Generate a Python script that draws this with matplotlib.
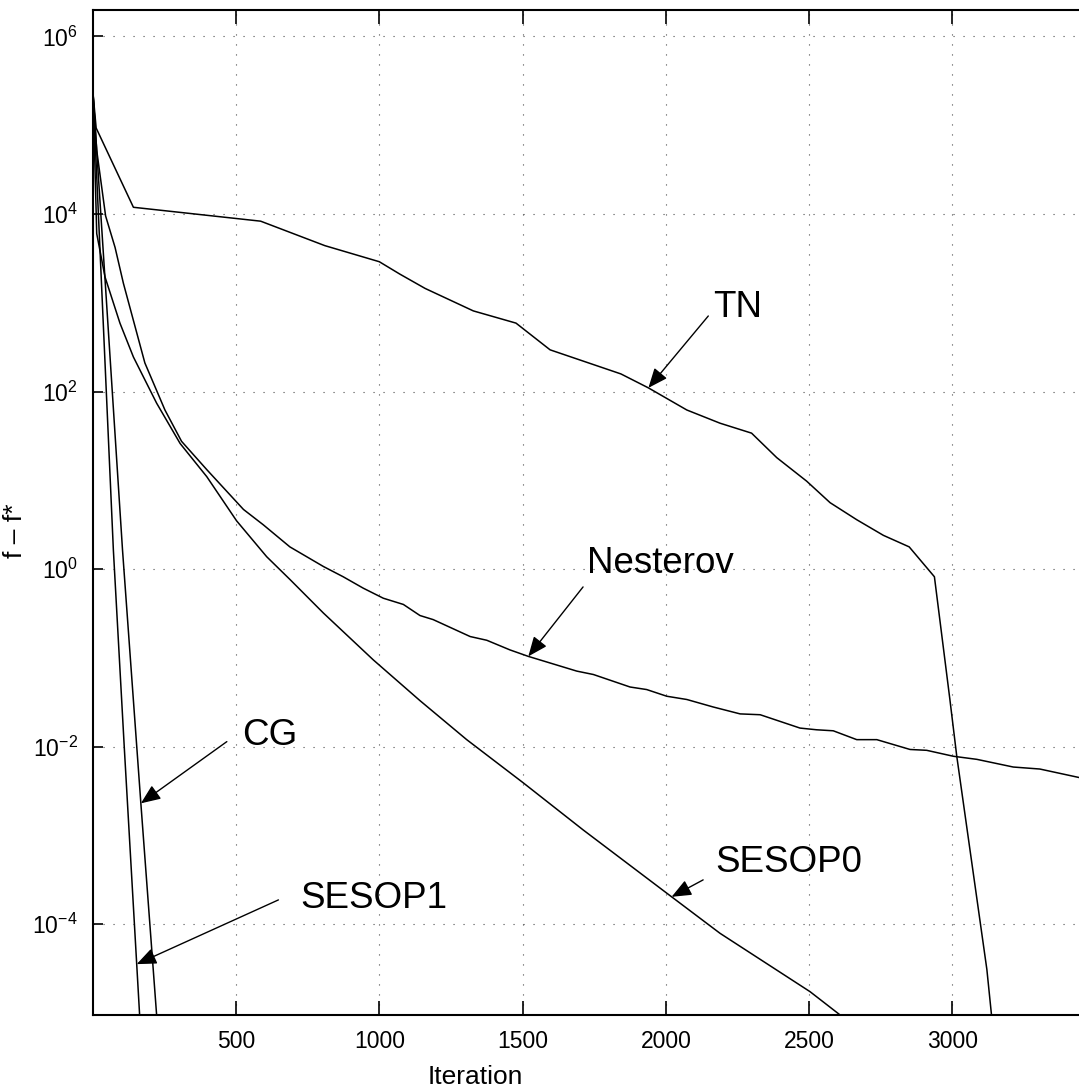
import numpy as np
import matplotlib
matplotlib.use("Agg")
import matplotlib.pyplot as plt
from matplotlib import font_manager
from matplotlib.ticker import FixedLocator, LogFormatterSciNotation, NullLocator

# ---- data: objective gap f - f* versus iteration ----
tn_iter = [1, 12, 142, 586, 810, 1000, 1072, 1160, 1328, 1477, 1596, 1843, 1939,
           2073, 2189, 2299, 2387, 2491, 2573, 2666, 2759, 2849, 2937, 2991, 3015,
           3120, 3145]
tn_gap = [2.3e5, 9.3e4, 1.19e4, 8.3e3, 4.4e3, 2.9e3, 2.1e3, 1.45e3, 8.1e2, 5.9e2,
          2.95e2, 1.58e2, 1.10e2, 62, 44, 34, 18, 9.8, 5.6, 3.6, 2.4, 1.78, 0.82,
          0.034, 7.8e-3, 3.1e-5, 5e-6]

nest_iter = [1, 14, 45, 78, 107, 182, 252, 310, 398, 526, 595, 688, 805, 874, 944,
             1014, 1084, 1142, 1188, 1317, 1375, 1456, 1520, 1689, 1747, 1875, 1933,
             2003, 2073, 2165, 2259, 2329, 2468, 2526, 2584, 2666, 2736, 2852, 2910,
             3003, 3085, 3212, 3305, 3441, 3460]
nest_gap = [2.3e5, 5.2e4, 9.5e3, 4.2e3, 1.66e3, 2.1e2, 62, 27.5, 13.2, 4.7, 3.16,
            1.78, 1.07, 0.82, 0.61, 0.47, 0.40, 0.30, 0.27, 0.174, 0.158, 0.123,
            0.104, 0.071, 0.065, 0.047, 0.044, 0.037, 0.034, 0.028, 0.0234, 0.0229,
            0.0162, 0.0155, 0.0151, 0.0120, 0.0120, 0.0093, 0.0091, 0.0078, 0.0072,
            0.0059, 0.0056, 0.0045, 0.0044]

sesop0_iter = [1, 14, 43, 95, 142, 223, 305, 398, 502, 607, 689, 805, 979, 1142,
               1305, 1503, 1712, 2003, 2189, 2503, 2608, 2650]
sesop0_gap = [2.3e5, 6.0e3, 1.95e3, 5.9e2, 2.45e2, 74, 26, 11, 3.5, 1.38, 0.76, 0.32,
              0.095, 0.033, 0.012, 3.9e-3, 1.15e-3, 2.24e-4, 7.9e-5, 1.74e-5,
              9.5e-6, 7.6e-6]

sesop1_iter = [1, 72, 110, 165, 172]
sesop1_gap = [2.3e5, 1.66, 0.01, 8e-6, 4e-6]

cg_iter = [1, 104, 168, 223, 232]
cg_gap = [2.3e5, 1.64, 2.3e-3, 9.5e-6, 4e-6]

# labels: (name, iteration the arrow points at, arrow tail, text baseline-left)
label_names = ["TN", "Nesterov", "CG", "SESOP1", "SESOP0"]
arrow_tip_iter = [1939, 1520, 168, 153.5, 2020]
arrow_tail = [(2148, 710), (1711, 0.63), (468, 0.0114), (648, 1.88e-4), (2130, 3.16e-4)]
text_anchor = [(2164, 692), (1725, 0.906), (520, 0.01047), (723, 1.53e-4), (2171, 3.89e-4)]

x_ticks = [500, 1000, 1500, 2000, 2500, 3000]
y_ticks = [1e-4, 1e-2, 1e0, 1e2, 1e4, 1e6]

# ---- fonts ----
installed = {f.name for f in font_manager.fontManager.ttflist}
face = "Liberation Sans Narrow" if "Liberation Sans Narrow" in installed else "Liberation Sans"
plt.rcParams["font.family"] = [face, "DejaVu Sans"]
plt.rcParams["mathtext.fontset"] = "custom"
plt.rcParams["mathtext.rm"] = face
plt.rcParams["mathtext.it"] = face
plt.rcParams["mathtext.bf"] = face
plt.rcParams["mathtext.default"] = "rm"

fig = plt.figure(figsize=(10.79, 10.90), dpi=100)
W, H = 1079.0, 1090.0
ax = fig.add_axes([93 / W, 75 / H, (1080 - 93) / W, (1015 - 9.7) / H])

series = [
    (tn_iter, tn_gap),
    (nest_iter, nest_gap),
    (sesop0_iter, sesop0_gap),
    (sesop1_iter, sesop1_gap),
    (cg_iter, cg_gap),
]
for xs, ys in series:
    ax.plot(xs, ys, color="k", lw=1.1, zorder=3)

ax.set_yscale("log")
ax.set_xlim(1, 3445)
ax.set_ylim(9.5e-6, 2.0e6)

ax.xaxis.set_major_locator(FixedLocator(x_ticks))
ax.yaxis.set_major_locator(FixedLocator(y_ticks))
ax.yaxis.set_minor_locator(NullLocator())
ax.yaxis.set_major_formatter(LogFormatterSciNotation())
ax.tick_params(axis="both", which="major", direction="in", labelsize=16.5,
               width=1.2, color="k")
ax.tick_params(axis="x", length=10, pad=11, top=True)
ax.tick_params(axis="y", length=7, pad=11)

ax.grid(True, which="major", color="0.3", lw=0.8, linestyle=(0, (1, 8)))
ax.set_axisbelow(True)

for side in ("left", "bottom", "top"):
    ax.spines[side].set_linewidth(1.5)
ax.spines["right"].set_visible(False)

ax.set_xlabel("Iteration", fontsize=19)
ax.xaxis.set_label_coords((475 - 93) / (1080 - 93), -(1065 - 1015) / (1015 - 9.7))
ax.set_ylabel("f \u2013 f*", fontsize=19)
ax.yaxis.set_label_coords(-(93 - 27) / (1080 - 93), (1015 - 531) / (1015 - 9.7))

# annotations with arrows pointing onto the curves
curve_for = {"TN": series[0], "Nesterov": series[1], "CG": series[4],
             "SESOP1": series[3], "SESOP0": series[2]}
for name, tip_x, tail, anchor in zip(label_names, arrow_tip_iter, arrow_tail, text_anchor):
    xs, ys = curve_for[name]
    tip_y = 10 ** np.interp(tip_x, xs, np.log10(ys))
    ax.annotate("", xy=(tip_x, tip_y), xytext=tail,
                arrowprops=dict(arrowstyle="-|>,head_length=0.6,head_width=0.25",
                                mutation_scale=20, color="k", lw=1.0,
                                shrinkA=0, shrinkB=0), zorder=4)
    ax.text(anchor[0], anchor[1], name, fontsize=26.5, ha="left", va="baseline", zorder=4)

fig.savefig("out.png", dpi=100)
